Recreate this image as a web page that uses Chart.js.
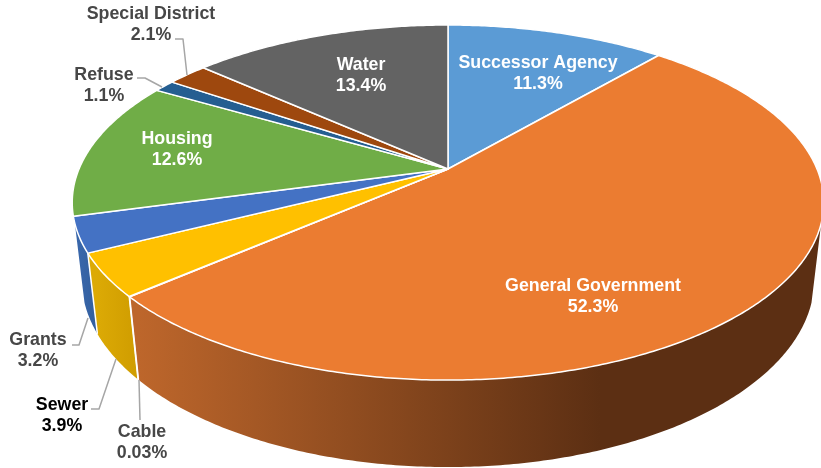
<!DOCTYPE html>
<html lang="en">
<head>
<meta charset="UTF-8">
<title>Fund share</title>
<style>
    html, body { margin: 0; padding: 0; background: #fff; overflow: hidden; }
    canvas { display: block; }
</style>
<script src="https://cdn.jsdelivr.net/npm/chart.js"></script>
</head>
<body>
<canvas id="myChart" width="821" height="468"></canvas>
<script>
const categories = ['Successor Agency', 'General Government', 'Cable', 'Sewer', 'Grants', 'Housing', 'Refuse', 'Special District', 'Water'];
const shares = [11.3, 52.3, 0.03, 3.9, 3.2, 12.6, 1.1, 2.1, 13.4];
const shareLabels = ['11.3%', '52.3%', '0.03%', '3.9%', '3.2%', '12.6%', '1.1%', '2.1%', '13.4%'];
const sliceColors = ['#5b9bd5', '#eb7c31', '#a5a5a5', '#ffc000', '#4472c4', '#70ad47', '#255e91', '#9e480e', '#636363'];

// side wall shade per slice: left colour, right colour, x range of the fade
const wallShades = [
    null,
    ['#bd662b', '#5c2f13', 139, 600],
    ['#bd662b', '#bd662b', 130, 140],
    ['#dcaa05', '#cf9c00', 96, 139],
    ['#3a68ad', '#335f9e', 75, 96],
    ['#3a68ad', '#3a68ad', 70, 96]
];

// label centre x, first line y, colour, for each slice
const labelSpots = [
    [538, 63, '#fff'], [593, 286, '#fff'], [142, 432, '#474747'],
    [62, 405, '#000'], [38, 340, '#474747'], [177, 139, '#fff'],
    [104, 75, '#474747'], [151, 14, '#474747'], [361, 65, '#fff']
];

const leaderLines = [
    [[72, 345], [79, 345], [88, 318]],
    [[91, 409], [99, 409], [116, 359]],
    [[140, 420], [139, 380]],
    [[175, 39], [183, 39], [187, 75]],
    [[137, 78], [145, 78], [162, 87]]
];

// camera setup of the tilted disc
const view = { cx: 448, cy: 169, a: 369, b: 171.2, k: 0.189, s: 1.025, drop: 78 };
const wallFrom = Math.asin(0.3);
const wallTo = Math.PI - wallFrom;

function topPoint(t) {
    const w = 1 - view.k * Math.sin(t);
    return [view.cx + view.a * Math.cos(t) / w, view.cy + view.b * Math.sin(t) / w];
}

function bottomPoint(t) {
    const w = view.s - view.k * Math.sin(t);
    return [view.cx + view.a * Math.cos(t) / w, view.cy + (view.b * Math.sin(t) + view.drop) / w];
}

function sampleAngles(from, to) {
    const steps = Math.max(2, Math.ceil((to - from) / 0.01));
    const out = [];
    for (let i = 0; i <= steps; i++) out.push(from + (to - from) * i / steps);
    return out;
}

function tracePoints(ctx, pts) {
    pts.forEach((p, i) => i ? ctx.lineTo(p[0], p[1]) : ctx.moveTo(p[0], p[1]));
}

const perspectivePie = {
    id: 'perspectivePie',
    beforeDatasetsDraw(chart) {
        const ctx = chart.ctx;
        const arcs = chart.getDatasetMeta(0).data;
        ctx.save();
        ctx.lineJoin = 'round';

        // side walls
        arcs.forEach((arc, i) => {
            const shade = wallShades[i];
            const from = Math.max(arc.startAngle, wallFrom);
            const to = Math.min(arc.endAngle, wallTo);
            if (!shade || to <= from) return;
            const grad = ctx.createLinearGradient(shade[3], 0, shade[2], 0);
            grad.addColorStop(0, shade[1]);
            grad.addColorStop(1, shade[0]);
            const angles = sampleAngles(from, to);
            ctx.beginPath();
            tracePoints(ctx, angles.map(topPoint).concat(angles.reverse().map(bottomPoint)));
            ctx.closePath();
            ctx.fillStyle = grad;
            ctx.fill();
        });

        // seams between the visible walls
        ctx.strokeStyle = '#fff';
        ctx.lineWidth = 1.5;
        arcs.forEach(arc => {
            if (arc.endAngle <= wallFrom || arc.endAngle >= wallTo) return;
            ctx.beginPath();
            tracePoints(ctx, [topPoint(arc.endAngle), bottomPoint(arc.endAngle)]);
            ctx.stroke();
        });

        // top face
        ctx.lineWidth = 1.5;
        arcs.forEach((arc, i) => {
            const rim = sampleAngles(arc.startAngle, arc.endAngle).map(topPoint);
            ctx.beginPath();
            tracePoints(ctx, [[view.cx, view.cy]].concat(rim));
            ctx.closePath();
            ctx.fillStyle = sliceColors[i];
            ctx.fill();
            ctx.stroke();
        });

        // leader lines
        ctx.strokeStyle = '#a6a6a6';
        ctx.lineWidth = 1.5;
        leaderLines.forEach(line => {
            ctx.beginPath();
            tracePoints(ctx, line);
            ctx.stroke();
        });

        // labels
        ctx.font = 'bold 17.8px "Liberation Sans", Arial, sans-serif';
        ctx.textAlign = 'center';
        ctx.textBaseline = 'middle';
        categories.forEach((name, i) => {
            const spot = labelSpots[i];
            ctx.fillStyle = spot[2];
            ctx.fillText(name, spot[0], spot[1]);
            ctx.fillText(shareLabels[i], spot[0], spot[1] + 21.5);
        });
        ctx.restore();
        return false;
    }
};

new Chart(document.getElementById('myChart'), {
    type: 'pie',
    data: {
        labels: categories,
        datasets: [{ data: shares, backgroundColor: sliceColors, borderColor: '#fff' }]
    },
    options: {
        responsive: false,
        animation: false,
        plugins: { legend: { display: false }, tooltip: { enabled: false } }
    },
    plugins: [perspectivePie]
});
</script>
</body>
</html>
